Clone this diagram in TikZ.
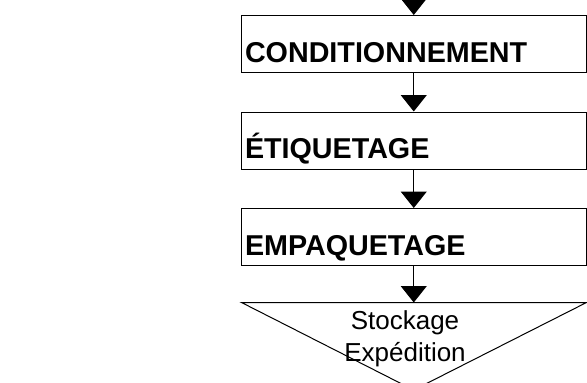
\documentclass[tikz,border=0pt]{standalone}
\usepackage{fontspec}
\setmainfont{Liberation Sans}
\usetikzlibrary{arrows.meta,positioning}

\begin{document}
\begin{tikzpicture}[x=1pt, y=-1pt,
    stepbox/.style={draw, line width=1pt, minimum width=344.5pt,
      text width=337.5pt, inner xsep=3.5pt, inner ysep=0pt,
      text height=46.5pt, text depth=10.5pt, align=left,
      font=\fontsize{28.7}{34}\selectfont\bfseries},
    flow/.style={-{Triangle[width=26pt,length=16.5pt]}, line width=1pt},
    node distance=38.5pt]
  \clip (0,0) rectangle (587,383);
  % process steps
  \node[stepbox] (cond) at (413.75,44) {CONDITIONNEMENT};
  \node[stepbox, below=of cond] (etiq) {ÉTIQUETAGE};
  \node[stepbox, below=of etiq] (emp) {EMPAQUETAGE};
  % storage triangle
  \coordinate (in) at (413.75,-40);
  \coordinate (stock) at (413.75,302.5);
  \draw[line width=1pt] (241.5,302.5) -- (586.5,302.5) -- (413.75,390) -- cycle;
  \node[font=\fontsize{26}{32.4}\selectfont, align=center, anchor=base]
    (stocktxt) at (405,361.7) {Stockage\\Expédition};
  % arrows
  \draw[flow] (in) -- (cond);
  \draw[flow] (cond) -- (etiq);
  \draw[flow] (etiq) -- (emp);
  \draw[flow] (emp) -- (stock);
\end{tikzpicture}
\end{document}
